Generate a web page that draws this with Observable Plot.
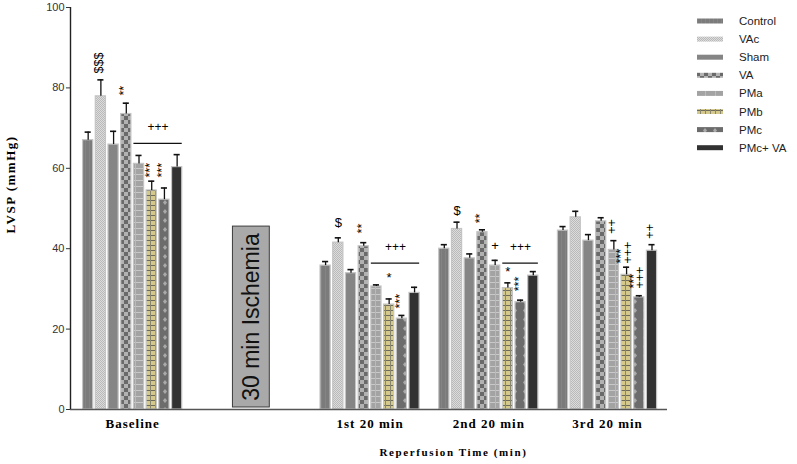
<!DOCTYPE html>
<html><head><meta charset="utf-8">
<script src="https://cdn.jsdelivr.net/npm/d3@7"></script>
<script src="https://cdn.jsdelivr.net/npm/@observablehq/plot@0.6"></script>
<style>body{margin:0;background:#fff}#chart{width:797px;height:464px}</style>
</head><body><div id="chart"></div>
<script>
// ---- data ----
const groups = ["Baseline", "30 min Ischemia", "1st 20 min", "2nd 20 min", "3rd 20 min"];
const barGroups = ["Baseline", "1st 20 min", "2nd 20 min", "3rd 20 min"];
const series = ["Control", "VAc", "Sham", "VA", "PMa", "PMb", "PMc", "PMc+ VA"];
const yTicks = [0, 20, 40, 60, 80, 100];
const yTitle = "LVSP (mmHg)";
const xTitle = "Reperfusion Time (min)";

const meanControl = [67.0, 35.8, 40.0, 44.5];
const meanVAc     = [77.9, 41.5, 44.9, 47.8];
const meanSham    = [65.9, 33.9, 37.6, 42.0];
const meanVA      = [73.5, 40.6, 44.1, 46.8];
const meanPMa     = [61.1, 30.6, 35.8, 39.7];
const meanPMb     = [54.5, 26.1, 30.2, 33.5];
const meanPMc     = [52.2, 22.6, 26.7, 27.9];
const meanPMcVA   = [60.3, 29.0, 33.3, 39.5];

const semControl = [2.0, 1.0, 1.0, 1.0];
const semVAc     = [4.1, 1.2, 1.7, 1.5];
const semSham    = [3.3, 0.9, 1.1, 1.5];
const semVA      = [2.7, 0.9, 0.6, 0.9];
const semPMa     = [2.1, 0.4, 1.3, 2.3];
const semPMb     = [2.3, 1.4, 1.3, 1.9];
const semPMc     = [2.9, 0.8, 0.5, 0.4];
const semPMcVA   = [3.1, 1.4, 1.0, 1.5];

// significance marks: [group, series, text, value at bottom of text]
const rotatedSigns = [
  ["Baseline", "VAc", "$$$", 83.6],
  ["Baseline", "VA", "**", 78.1],
  ["Baseline", "PMb", "***", 57.7],
  ["Baseline", "PMc", "***", 57.7],
  ["1st 20 min", "VA", "**", 43.8],
  ["1st 20 min", "PMc", "***", 25.1],
  ["2nd 20 min", "VA", "**", 46.3],
  ["2nd 20 min", "PMc", "***", 29.4],
  ["3rd 20 min", "PMa", "++", 43.7],
  ["3rd 20 min", "PMb", "***\n+++", 36.3],
  ["3rd 20 min", "PMc", "***\n+++", 30.1],
  ["3rd 20 min", "PMc+ VA", "++", 42.5]
];
const plainSigns = [
  ["1st 20 min", "VAc", "$", 45.3],
  ["1st 20 min", "PMb", "*", 31.6],
  ["2nd 20 min", "VAc", "$", 48.3],
  ["2nd 20 min", "PMa", "+", 39.6],
  ["2nd 20 min", "PMb", "*", 33.3]
];
// brackets: [group, from series, to series, value, text]
const brackets = [
  ["Baseline", "PMa", "PMc+ VA", 66.2, "+++"],
  ["1st 20 min", "PMa", "PMc+ VA", 36.4, "+++"],
  ["2nd 20 min", "PMb", "PMc+ VA", 36.4, "+++"]
];
const ischemia = [{group: "30 min Ischemia", bottom: 0.5, top: 45.5}];
const yTitleAt = 56;

// ---- layout helpers ----
const groupPitch = 9.34, barHalf = 0.4, capHalf = 0.24, boxHalf = 1.45;
const xDomain = [-1.39, 45.58];
const pos = (g, s) => groups.indexOf(g) * groupPitch + series.indexOf(s);
const center = g => groups.indexOf(g) * groupPitch + (series.length - 1) / 2;
const tickName = new Map(barGroups.map(g => [center(g), g]));

const means = [meanControl, meanVAc, meanSham, meanVA, meanPMa, meanPMb, meanPMc, meanPMcVA];
const sems = [semControl, semVAc, semSham, semVA, semPMa, semPMb, semPMc, semPMcVA];
const rows = [];
series.forEach((s, si) => barGroups.forEach((g, gi) =>
  rows.push({group: g, series: s, si, value: means[si][gi], sem: sems[si][gi]})));

const rot = rotatedSigns.map(([group, s, text, y]) => ({group, s, text, y}));
const plain = plainSigns.map(([group, s, text, y]) => ({group, s, text, y}));
const brk = brackets.map(([group, from, to, y, text]) => ({group, from, to, y, text}));

const sans = "'Liberation Sans', Arial, sans-serif";
const serif = "'Liberation Serif', 'Times New Roman', serif";

const svgEl = Plot.plot({
  width: 797, height: 464,
  marginLeft: 70, marginRight: 130, marginTop: 7, marginBottom: 55,
  x: {domain: xDomain, axis: null},
  y: {domain: [0, 100], axis: null},
  color: {type: "identity"},
  style: {fontFamily: sans, fontSize: "11px", background: "white", color: "#111"},
  marks: [
    Plot.rect(ischemia, {x1: d => center(d.group) - boxHalf, x2: d => center(d.group) + boxHalf,
      y1: "bottom", y2: "top", fill: "#a9a9a9", stroke: "#3c3c3c", strokeWidth: 1}),
    Plot.text(ischemia, {x: d => center(d.group), y: d => (d.bottom + d.top) / 2, text: "group",
      rotate: -90, fontSize: 23, fill: "#111", fontFamily: sans}),
    Plot.rect(rows, {x1: d => pos(d.group, d.series) - barHalf, x2: d => pos(d.group, d.series) + barHalf,
      y1: 0, y2: "value", fill: d => `url(#pat${d.si})`, stroke: "#c4c4c4", strokeWidth: 1.2}),
    Plot.ruleX(rows, {x: d => pos(d.group, d.series), y1: "value", y2: d => d.value + d.sem,
      stroke: "#111", strokeWidth: 1.3}),
    Plot.ruleY(rows, {y: d => d.value + d.sem, x1: d => pos(d.group, d.series) - capHalf,
      x2: d => pos(d.group, d.series) + capHalf, stroke: "#111", strokeWidth: 1.6}),
    Plot.ruleY(brk, {y: "y", x1: d => pos(d.group, d.from) - barHalf, x2: d => pos(d.group, d.to) + barHalf,
      stroke: "#111", strokeWidth: 1.3}),
    Plot.text(brk, {x: d => (pos(d.group, d.from) + pos(d.group, d.to)) / 2, y: "y", text: "text",
      dy: -16, fontSize: 12, fill: "#000", fontFamily: sans, ariaLabel: "bracket-signs"}),
    Plot.text(rot, {x: d => pos(d.group, d.s), y: "y", text: "text", rotate: -90, textAnchor: "start",
      lineHeight: 0.5, fontSize: 12.5, fill: "#000", fontFamily: sans, ariaLabel: "rotated-signs"}),
    Plot.text(plain, {x: d => pos(d.group, d.s), y: "y", text: "text", lineAnchor: "bottom",
      fontSize: 13, fill: "#000", fontFamily: sans, ariaLabel: "plain-signs"}),
    Plot.ruleY([0], {stroke: "#555", strokeWidth: 1.6}),
    Plot.ruleX([xDomain[0]], {stroke: "#222", strokeWidth: 1.4}),
    Plot.axisY({ticks: yTicks, tickSize: 4, tickPadding: 2, fontSize: 11, label: null, color: "#333"}),
    Plot.axisX({ticks: barGroups.map(center), tickFormat: v => tickName.get(v), tickSize: 0,
      tickPadding: 9, fontSize: 13, fontWeight: "bold", fontFamily: serif, label: null, color: "#000"}),
    Plot.text([yTitle], {text: d => d, x: xDomain[0], y: yTitleAt, rotate: -90, dx: -60,
      fontWeight: "bold", fontFamily: serif, fontSize: 13, fill: "#000"}),
    Plot.text([xTitle], {text: d => d, frameAnchor: "bottom", lineAnchor: "middle", dx: 84.5, dy: 43,
      fontWeight: "bold", fontFamily: serif, fontSize: 11, fill: "#000"})
  ]
});

// ---- patterns and legend ----
const svg = d3.select(svgEl);
const defs = svg.insert("defs", ":first-child");
function pat(id, w, h, bg, draw) {
  const p = defs.append("pattern").attr("id", id).attr("patternUnits", "userSpaceOnUse")
    .attr("width", w).attr("height", h);
  p.append("rect").attr("width", w).attr("height", h).attr("fill", bg);
  if (draw) draw(p);
}
pat("pat0", 4, 4, "#7b7b7b", p => p.append("rect").attr("x", 1).attr("width", 1).attr("height", 4).attr("fill", "#848484"));
pat("pat1", 2, 2, "#dcdcdc", p => {
  p.append("rect").attr("width", 1).attr("height", 1).attr("fill", "#b9b9b9");
  p.append("rect").attr("x", 1).attr("y", 1).attr("width", 1).attr("height", 1).attr("fill", "#b9b9b9");
});
pat("pat2", 4, 4, "#858585");
pat("pat3", 8, 8, "#b2b2b2", p => {
  p.append("rect").attr("width", 4).attr("height", 4).attr("fill", "#6a6a6a");
  p.append("rect").attr("x", 4).attr("y", 4).attr("width", 4).attr("height", 4).attr("fill", "#6a6a6a");
});
pat("pat4", 10, 6, "#a3a3a3", p => {
  p.append("rect").attr("width", 10).attr("height", 1).attr("fill", "#c8c8c8");
  p.append("rect").attr("x", 5).attr("width", 1).attr("height", 6).attr("fill", "#bababa");
});
pat("pat5", 5, 5, "#d4c98a", p => {
  p.append("rect").attr("width", 5).attr("height", 1).attr("fill", "#6e6c58");
  p.append("rect").attr("width", 1).attr("height", 5).attr("fill", "#8a8770");
});
pat("pat6", 10, 9, "#6c6c6c", p => {
  p.append("path").attr("d", "M5,2 L7,4.5 L5,7 L3,4.5 Z").attr("fill", "#a9a9a9");
});
pat("pat7", 4, 4, "#323232");

const lg = svg.append("g").attr("font-family", sans).attr("font-size", 11.5).attr("fill", "#222")
  .attr("text-anchor", "start");
series.forEach((s, i) => {
  const y = 21 + i * 18.1;
  lg.append("rect").attr("x", 697).attr("y", y - 2.5).attr("width", 26).attr("height", 5)
    .attr("fill", `url(#pat${i})`);
  lg.append("text").attr("x", 739).attr("y", y).attr("dy", "0.35em").text(s);
});

svg.selectAll("[aria-label='x-axis tick label'] text").attr("letter-spacing", 1);
svg.selectAll("[aria-label='rotated-signs'] text").attr("letter-spacing", 1);
svg.selectAll("[aria-label='rotated-signs'], [aria-label='bracket-signs'], [aria-label='plain-signs']")
  .attr("opacity", 0.999);
svg.selectAll("text").filter(function () { return this.textContent === xTitle; }).attr("letter-spacing", 1.6);
svg.selectAll("text").filter(function () { return this.textContent === yTitle; }).attr("letter-spacing", 1.5);

document.getElementById("chart").appendChild(svgEl);
</script>
</body></html>
